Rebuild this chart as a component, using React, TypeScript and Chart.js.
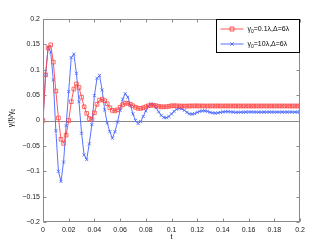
import React, { useEffect, useRef } from "react";
import { Chart, registerables } from "chart.js";

Chart.register(...registerables);

const tStep = 0.002;

const seriesLabels = ["0.1λ,Δ=6λ", "10λ,Δ=6λ"];

const redValues = [
  0, 0.09, 0.143, 0.149, 0.115, 0.058, 0.005, -0.037, -0.045, -0.029,
  0.0, 0.037, 0.062, 0.072, 0.065, 0.046, 0.027, 0.014, 0.004, 0.002,
  0.015, 0.032, 0.04, 0.042, 0.039, 0.033, 0.025, 0.02, 0.019, 0.021,
  0.026, 0.031, 0.034, 0.034, 0.032, 0.029, 0.026, 0.024, 0.024, 0.025,
  0.027, 0.029, 0.03, 0.03, 0.029, 0.028, 0.027, 0.027, 0.027, 0.028,
  0.029, 0.029, 0.0289, 0.0286, 0.0284, 0.0283, 0.0284, 0.0286, 0.0287, 0.0288,
  0.0288, 0.0287, 0.0286, 0.0285, 0.0285, 0.0286, 0.0287, 0.0287, 0.0287, 0.0286,
  0.0286, 0.0286, 0.0286, 0.0287, 0.0287, 0.0286, 0.0286, 0.0286, 0.0286, 0.0286,
  0.0286, 0.0286, 0.0286, 0.0286, 0.0286, 0.0286, 0.0286, 0.0286, 0.0286, 0.0286,
  0.0286, 0.0286, 0.0286, 0.0286, 0.0286, 0.0286, 0.0286, 0.0286, 0.0286, 0.0286,
  0.0286,
];

const blueValues = [
  0, 0.09, 0.145, 0.135, 0.08, -0.02, -0.1, -0.12, -0.082, -0.01,
  0.057, 0.124, 0.131, 0.093, 0.037, -0.025, -0.068, -0.077, -0.046, -0.008,
  0.049, 0.083, 0.089, 0.06, 0.021, -0.005, -0.022, -0.035, -0.022, -0.003,
  0.02, 0.042, 0.053, 0.046, 0.03, 0.013, 0.0, -0.006, -0.002, 0.008,
  0.019, 0.028, 0.033, 0.031, 0.025, 0.017, 0.01, 0.006, 0.0055, 0.008,
  0.013, 0.018, 0.022, 0.024, 0.023, 0.02, 0.016, 0.013, 0.0125, 0.0135,
  0.016, 0.018, 0.019, 0.019, 0.018, 0.016, 0.015, 0.0145, 0.015, 0.016,
  0.017, 0.0175, 0.0175, 0.017, 0.0165, 0.016, 0.0162, 0.0163, 0.0165, 0.0167,
  0.0168, 0.0168, 0.0167, 0.0166, 0.0165, 0.0165, 0.0166, 0.0167, 0.0167, 0.0167,
  0.0166, 0.0166, 0.0166, 0.0166, 0.0167, 0.0167, 0.0167, 0.0166, 0.0166, 0.0166,
  0.0166,
];

const xTickMin = 0;
const xTickMax = 0.2;
const xTickStep = 0.02;
const yTickMin = -0.2;
const yTickMax = 0.2;
const yTickStep = 0.05;

const RED = "#ff4545";
const BLUE = "#4563ff";
const FRAME = "#8a8a8a";
const FONT = "Liberation Sans, Arial, sans-serif";

function toPoints(vals: number[]) {
  return vals.map((v, i) => ({ x: +(i * tStep).toFixed(4), y: v }));
}

function fmt(v: number) {
  const s = Number(Math.abs(v).toFixed(3)).toString();
  return v < -1e-9 ? "\u2212" + s : s;
}

const decorPlugin = {
  id: "decor",
  beforeDatasetsDraw(chart: any) {
    const { ctx, chartArea: a, scales } = chart;
    const y0 = Math.round(scales.y.getPixelForValue(0)) + 0.5;
    ctx.save();
    ctx.strokeStyle = FRAME;
    ctx.lineWidth = 1;
    ctx.beginPath();
    ctx.moveTo(a.left, y0);
    ctx.lineTo(a.right, y0);
    ctx.stroke();
    ctx.restore();
  },
  afterDraw(chart: any) {
    const { ctx, chartArea: a, scales } = chart;
    ctx.save();
    ctx.strokeStyle = FRAME;
    ctx.lineWidth = 1;
    const L = Math.round(a.left) + 0.5;
    const R = Math.round(a.right) - 0.5;
    const T = Math.round(a.top) + 0.5;
    const B = Math.round(a.bottom) - 0.5;
    ctx.strokeRect(L, T, R - L, B - T);
    ctx.beginPath();
    scales.x.ticks.forEach((t: any) => {
      const px = Math.round(scales.x.getPixelForValue(t.value)) + 0.5;
      ctx.moveTo(px, B);
      ctx.lineTo(px, B - 3);
      ctx.moveTo(px, T);
      ctx.lineTo(px, T + 3);
    });
    scales.y.ticks.forEach((t: any) => {
      const py = Math.round(scales.y.getPixelForValue(t.value)) + 0.5;
      ctx.moveTo(L, py);
      ctx.lineTo(L + 3, py);
      ctx.moveTo(R, py);
      ctx.lineTo(R - 3, py);
    });
    ctx.stroke();

    // legend box
    const bw = 83;
    const bh = 33;
    const bx = Math.round(a.right) - bw - 0.5;
    const by = Math.round(a.top) + 0.5;
    ctx.fillStyle = "#fff";
    ctx.fillRect(bx, by, bw, bh);
    ctx.strokeStyle = "#000";
    ctx.strokeRect(bx, by, bw, bh);
    const rows = [
      { color: RED, style: "rect", label: seriesLabels[0], y: by + 9.5 },
      { color: BLUE, style: "cross", label: seriesLabels[1], y: by + 24.5 },
    ];
    rows.forEach((r) => {
      const lx0 = bx + 4;
      const lx1 = bx + 27;
      ctx.strokeStyle = r.color;
      ctx.lineWidth = 0.9;
      ctx.beginPath();
      ctx.moveTo(lx0, r.y);
      ctx.lineTo(lx1, r.y);
      ctx.stroke();
      const mx = (lx0 + lx1) / 2;
      ctx.beginPath();
      if (r.style === "rect") {
        ctx.rect(mx - 2, r.y - 2, 4, 4);
      } else {
        ctx.moveTo(mx - 1.6, r.y - 1.6);
        ctx.lineTo(mx + 1.6, r.y + 1.6);
        ctx.moveTo(mx + 1.6, r.y - 1.6);
        ctx.lineTo(mx - 1.6, r.y + 1.6);
      }
      ctx.stroke();
      ctx.fillStyle = "#000";
      ctx.textBaseline = "middle";
      ctx.textAlign = "left";
      let tx = bx + 31;
      ctx.font = `7px ${FONT}`;
      ctx.fillText("γ", tx, r.y);
      tx += ctx.measureText("γ").width;
      ctx.font = `5px ${FONT}`;
      ctx.fillText("0", tx, r.y + 2.5);
      tx += ctx.measureText("0").width;
      ctx.font = `7px ${FONT}`;
      ctx.fillText("=" + r.label, tx, r.y);
    });

    // axis titles
    ctx.fillStyle = "#000";
    ctx.font = `7px ${FONT}`;
    ctx.textAlign = "center";
    ctx.textBaseline = "middle";
    ctx.fillText("t", (a.left + a.right) / 2, 237.5);

    ctx.translate(11.5, 118);
    ctx.rotate(-Math.PI / 2);
    const main = "γ(t)/γ";
    ctx.font = `7px ${FONT}`;
    const w1 = ctx.measureText(main).width;
    ctx.font = `5px ${FONT}`;
    const w2 = ctx.measureText("0").width;
    const start = -(w1 + w2) / 2;
    ctx.textAlign = "left";
    ctx.font = `7px ${FONT}`;
    ctx.fillText(main, start, 0);
    ctx.font = `5px ${FONT}`;
    ctx.fillText("0", start + w1, 2.5);
    ctx.restore();
  },
};

export default function App() {
  const ref = useRef<HTMLCanvasElement | null>(null);
  useEffect(() => {
    document.body.style.margin = "0";
    if (!ref.current) return;
    const chart = new Chart(ref.current, {
      type: "line",
      data: {
        datasets: [
          {
            label: seriesLabels[0],
            data: toPoints(redValues),
            borderColor: RED,
            backgroundColor: "rgba(0,0,0,0)",
            borderWidth: 0.9,
            pointStyle: "rect",
            pointRadius: 2.6,
            pointBorderWidth: 0.8,
            pointBorderColor: RED,
            pointBackgroundColor: "rgba(0,0,0,0)",
            tension: 0,
          },
          {
            label: seriesLabels[1],
            data: toPoints(blueValues),
            borderColor: BLUE,
            backgroundColor: "rgba(0,0,0,0)",
            borderWidth: 0.9,
            pointStyle: "crossRot",
            pointRadius: 2.2,
            pointBorderWidth: 0.8,
            pointBorderColor: BLUE,
            tension: 0,
          },
        ],
      },
      options: {
        animation: false,
        responsive: false,
        events: [],
        layout: { padding: { left: 0, right: 32, top: 19, bottom: 0 } },
        plugins: {
          legend: { display: false },
          tooltip: { enabled: false },
        },
        scales: {
          x: {
            type: "linear",
            min: xTickMin,
            max: xTickMax,
            grid: { display: false, drawTicks: false },
            border: { display: false },
            ticks: {
              stepSize: xTickStep,
              padding: 4,
              color: "#222",
              font: { size: 7, family: FONT },
              maxRotation: 0,
              autoSkip: false,
              callback: (v: any) => fmt(Number(v)),
            },
            afterFit: (s: any) => {
              s.height = 28;
            },
          },
          y: {
            type: "linear",
            min: yTickMin,
            max: yTickMax,
            grid: { display: false, drawTicks: false },
            border: { display: false },
            ticks: {
              stepSize: yTickStep,
              padding: 3,
              color: "#222",
              font: { size: 7, family: FONT },
              autoSkip: false,
              callback: (v: any) => fmt(Number(v)),
            },
            afterFit: (s: any) => {
              s.width = 43;
            },
          },
        },
      },
      plugins: [decorPlugin],
    });
    return () => chart.destroy();
  }, []);
  return <canvas ref={ref} width={332} height={250} style={{ display: "block" }} />;
}
